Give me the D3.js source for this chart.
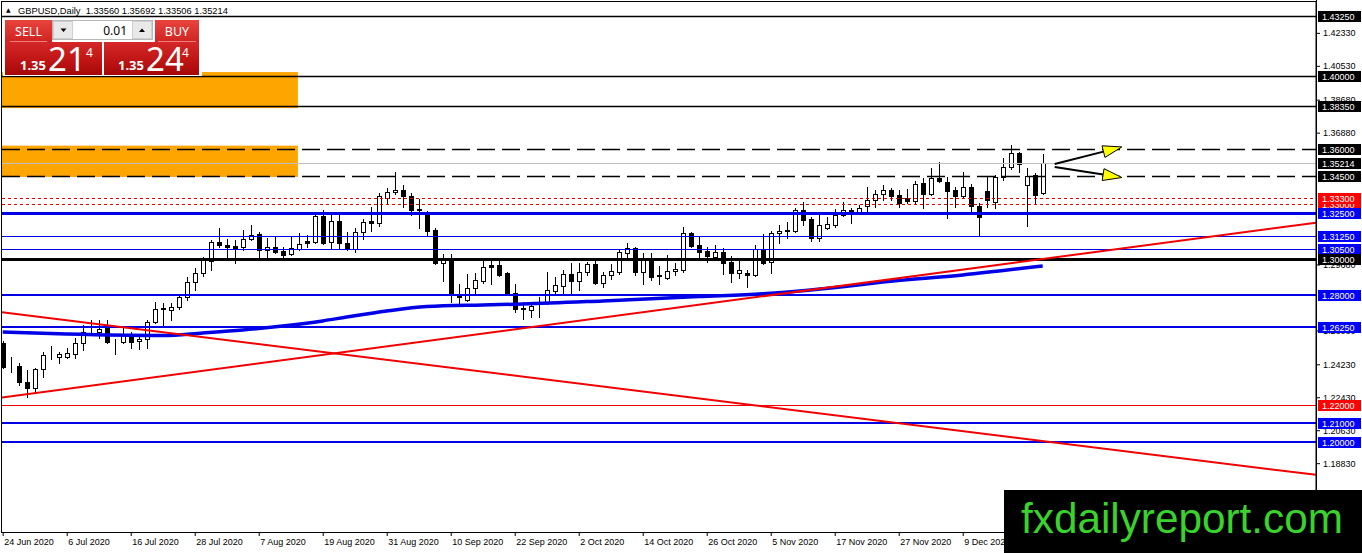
<!DOCTYPE html>
<html>
<head>
<meta charset="utf-8">
<title>GBPUSD Daily</title>
<script src="https://cdnjs.cloudflare.com/ajax/libs/d3/7.8.5/d3.min.js"></script>
<style>
  body { margin: 0; background: #fff; overflow: hidden; }
  svg { display: block; }
  .ax text { font-family: "Liberation Sans", Arial, sans-serif; font-size: 9px; fill: #000; }
  .ax line { stroke: #000; }
</style>
</head>
<body>
<div id="chart"></div>
<script>
// daily bars, 24 Jun 2020 .. 23 Dec 2020
var opens = [1.2540,1.2416,1.2413,1.2326,1.2294,1.2397,1.2468,1.2463,1.2463,1.2479,
  1.2540,1.2599,1.2599,1.2627,1.2551,1.2545,1.2572,1.2551,1.2561,1.2654,
  1.2725,1.2720,1.2736,1.2791,1.2872,1.2922,1.2987,1.3091,1.3075,1.3069,
  1.3064,1.3107,1.3135,1.3047,1.3064,1.3042,1.3025,1.3053,1.3096,1.3091,
  1.3233,1.3091,1.3206,1.3085,1.3053,1.3145,1.3206,1.3195,1.3331,1.3364,
  1.3375,1.3342,1.3271,1.3249,1.3156,1.2976,1.2998,1.2801,1.2774,1.2840,
  1.2878,1.2965,1.2965,1.2922,1.2812,1.2725,1.2720,1.2742,1.2758,1.2823,
  1.2851,1.2916,1.2878,1.2927,1.2971,1.2867,1.2911,1.2927,1.3031,1.3058,
  1.2927,1.2998,1.2905,1.2894,1.2933,1.2938,1.3140,1.3075,1.3042,1.3009,
  1.3036,1.2982,1.2922,1.2922,1.2911,1.3053,1.2982,1.3140,1.3151,1.3151,
  1.3266,1.3216,1.3113,1.3167,1.3184,1.3238,1.3266,1.3255,1.3287,1.3320,
  1.3353,1.3375,1.3348,1.3331,1.3315,1.3413,1.3353,1.3440,1.3418,1.3375,
  1.3342,1.3391,1.3287,1.3369,1.3309,1.3446,1.3500,1.3577,1.3402,1.3457,
  1.33560];
var highs = [1.2551,1.2462,1.2430,1.2392,1.2402,1.2490,1.2523,1.2490,1.2512,1.2567,
  1.2637,1.2665,1.2665,1.2665,1.2561,1.2627,1.2599,1.2584,1.2665,1.2763,
  1.2758,1.2758,1.2801,1.2900,1.2949,1.3009,1.3102,1.3167,1.3107,1.3102,
  1.3156,1.3184,1.3145,1.3113,1.3124,1.3064,1.3118,1.3140,1.3129,1.3249,
  1.3266,1.3249,1.3249,1.3145,1.3167,1.3216,1.3282,1.3358,1.3386,1.3473,
  1.3402,1.3358,1.3326,1.3260,1.3167,1.3025,1.3025,1.2861,1.2916,1.2922,
  1.2998,1.2998,1.2998,1.2925,1.2861,1.2763,1.2758,1.2791,1.2927,1.2900,
  1.2938,1.2976,1.2976,1.2982,1.2993,1.2927,1.2971,1.3047,1.3085,1.3064,
  1.3031,1.3031,1.2960,1.3020,1.2976,1.3173,1.3145,1.3124,1.3064,1.3075,
  1.3058,1.3014,1.2987,1.2938,1.3075,1.3135,1.3151,1.3184,1.3200,1.3277,
  1.3309,1.3227,1.3238,1.3227,1.3271,1.3309,1.3277,1.3293,1.3391,1.3375,
  1.3402,1.3386,1.3375,1.3380,1.3424,1.3440,1.3495,1.3528,1.3446,1.3391,
  1.3473,1.3408,1.3304,1.3446,1.3457,1.3550,1.3621,1.3582,1.3495,1.3468,
  1.35692];
var lows = [1.2402,1.2381,1.2310,1.2244,1.2266,1.2354,1.2452,1.2430,1.2457,1.2457,
  1.2501,1.2588,1.2567,1.2540,1.2479,1.2540,1.2512,1.2507,1.2512,1.2648,
  1.2637,1.2665,1.2725,1.2774,1.2829,1.2905,1.2938,1.3064,1.2998,1.2976,
  1.3047,1.3102,1.3003,1.3009,1.3031,1.3003,1.3020,1.3047,1.3064,1.3085,
  1.3080,1.3058,1.3053,1.3047,1.3036,1.3107,1.3151,1.3178,1.3298,1.3353,
  1.3282,1.3238,1.3167,1.3129,1.2971,1.2878,1.2763,1.2752,1.2769,1.2812,
  1.2867,1.2861,1.2905,1.2807,1.2709,1.2670,1.2681,1.2681,1.2752,1.2812,
  1.2801,1.2812,1.2829,1.2911,1.2861,1.2845,1.2889,1.2916,1.3009,1.2911,
  1.2861,1.2883,1.2861,1.2889,1.2911,1.2927,1.3064,1.3009,1.2982,1.3003,
  1.2916,1.2872,1.2894,1.2845,1.2905,1.2971,1.2922,1.3085,1.3113,1.3145,
  1.3184,1.3096,1.3096,1.3162,1.3173,1.3233,1.3195,1.3244,1.3255,1.3282,
  1.3320,1.3320,1.3282,1.3304,1.3304,1.3277,1.3348,1.3418,1.3222,1.3282,
  1.3337,1.3244,1.3124,1.3282,1.3277,1.3429,1.3490,1.3473,1.3178,1.3298,
  1.33506];
var closes = [1.2408,1.2411,1.2326,1.2294,1.2397,1.2474,1.2471,1.2479,1.2485,1.2540,
  1.2599,1.2597,1.2616,1.2545,1.2548,1.2584,1.2545,1.2561,1.2654,1.2725,
  1.2729,1.2736,1.2791,1.2872,1.2922,1.2993,1.3091,1.3075,1.3064,1.3058,
  1.3107,1.3129,1.3047,1.3064,1.3036,1.3020,1.3058,1.3080,1.3088,1.3233,
  1.3085,1.3206,1.3085,1.3053,1.3145,1.3200,1.3195,1.3342,1.3364,1.3375,
  1.3342,1.3266,1.3268,1.3151,1.2976,1.2998,1.2801,1.2791,1.2840,1.2883,
  1.2954,1.2954,1.2911,1.2812,1.2725,1.2731,1.2742,1.2739,1.2829,1.2856,
  1.2916,1.2878,1.2927,1.2971,1.2867,1.2911,1.2933,1.3036,1.3058,1.2927,
  1.3003,1.2900,1.2911,1.2933,1.2943,1.3140,1.3069,1.3036,1.3014,1.3036,
  1.2976,1.2922,1.2938,1.2911,1.3053,1.2976,1.3140,1.3151,1.3156,1.3266,
  1.3211,1.3113,1.3184,1.3189,1.3238,1.3266,1.3255,1.3277,1.3320,1.3353,
  1.3375,1.3342,1.3304,1.3315,1.3408,1.3353,1.3440,1.3424,1.3369,1.3342,
  1.3391,1.3287,1.3227,1.3320,1.3446,1.3500,1.3577,1.3517,1.3451,1.3348,
  1.35214];

// moving average, sampled at these bars
var maBars   = [0, 8, 20, 25, 30, 35, 40, 43, 48, 53, 60, 65, 75, 87, 95, 100, 105, 110, 120, 130];
var maValues = [1.2599, 1.2588, 1.2580, 1.2594, 1.2610, 1.2632, 1.2660, 1.2681, 1.2714, 1.2738,
  1.2747, 1.2752, 1.2769, 1.2793, 1.2808, 1.2825, 1.2847, 1.2872, 1.2911, 1.2960];

// trend lines (two anchors each, extended to the right edge)
var trendUpBars = [0, 130], trendUpPrices = [1.2242, 1.2998];
var trendDownBars = [0, 130], trendDownPrices = [1.2707, 1.2004];

// horizontal levels
var blackLevels = [1.43250, 1.40000, 1.38350];
var dashLevels = [1.36000, 1.34500];
var bidPrice = 1.35214;
var redDotLevels = [1.33000, 1.33300];
var blueLevels = [1.32500, 1.31250, 1.30500, 1.28000, 1.26250, 1.21000, 1.20000];
var pivotLevel = 1.30000;
var redLevel = 1.22000;

// zones
var zoneTops = [1.4019, 1.3617];
var zoneBottoms = [1.3822, 1.3446];
var zoneEndBar = 36.9;

// arrows
var arrowStartBars = [131.5, 131.5], arrowStartPrices = [1.3517, 1.3500];
var arrowEndBars = [139.9, 139.9], arrowEndPrices = [1.3610, 1.3443];

// axes
var priceTicks = [1.42330, 1.40530, 1.38680, 1.36880, 1.29680, 1.26080,
  1.24230, 1.22430, 1.20630, 1.18830];
var dateBars = [0, 8, 16, 24, 32, 40, 48, 56, 64, 72, 80, 88, 96, 104, 112, 120];
var dateLabels = ["24 Jun 2020", "6 Jul 2020", "16 Jul 2020", "28 Jul 2020", "7 Aug 2020",
  "19 Aug 2020", "31 Aug 2020", "10 Sep 2020", "22 Sep 2020", "2 Oct 2020", "14 Oct 2020",
  "26 Oct 2020", "5 Nov 2020", "17 Nov 2020", "27 Nov 2020", "9 Dec 2020"];

var W = 1362, H = 553;
var pL = 2, pR = 1316, pT = 2, pB = 532;

var x = d3.scaleLinear().domain([0, 130]).range([2.7, 1042.7]);
var y = d3.scaleLinear().domain([1.14908, 1.44124]).range([535, 0]);

var svg = d3.select("#chart").append("svg").attr("width", W).attr("height", H);
var defs = svg.append("defs");
defs.append("clipPath").attr("id", "plotClip").append("rect")
  .attr("x", pL).attr("y", pT).attr("width", pR - pL).attr("height", pB - pT);

var plot = svg.append("g").attr("clip-path", "url(#plotClip)");

// zones (background)
plot.selectAll("rect.zone").data(zoneTops).join("rect")
  .attr("class", "zone")
  .attr("x", pL)
  .attr("width", x(zoneEndBar) - pL)
  .attr("y", function(d) { return y(d); })
  .attr("height", function(d, i) { return y(zoneBottoms[i]) - y(d); })
  .attr("fill", "#ffa500");

// candles
var bars = d3.range(opens.length);
var cx = function(i) { return Math.round(x(i)) + 0.5; };
plot.selectAll("line.wick").data(bars).join("line")
  .attr("class", "wick")
  .attr("x1", cx).attr("x2", cx)
  .attr("y1", function(i) { return Math.round(y(highs[i])); })
  .attr("y2", function(i) { return Math.round(y(lows[i])) + 1; })
  .attr("stroke", "#000").attr("stroke-width", 1);
plot.selectAll("rect.body").data(bars).join("rect")
  .attr("class", "body")
  .attr("x", function(i) { return cx(i) - 2; })
  .attr("width", 4)
  .attr("y", function(i) { return Math.round(y(Math.max(opens[i], closes[i]))) + 0.5; })
  .attr("height", function(i) {
    return Math.round(y(Math.min(opens[i], closes[i]))) - Math.round(y(Math.max(opens[i], closes[i])));
  })
  .attr("fill", function(i) { return closes[i] >= opens[i] ? "#fff" : "#000"; })
  .attr("stroke", "#000").attr("stroke-width", 1);

// horizontal levels
function hLine(p, color, width, dash) {
  var yy = Math.round(y(p)) + (width % 2 ? 0.5 : 0);
  var l = plot.append("line")
    .attr("x1", pL).attr("x2", pR)
    .attr("y1", yy).attr("y2", yy)
    .attr("stroke", color).attr("stroke-width", width);
  if (dash) l.attr("stroke-dasharray", dash);
}
blackLevels.forEach(function(p) { hLine(p, "#000", 1.5); });
dashLevels.forEach(function(p) { hLine(p, "#000", 1.5, "18,7"); });
hLine(bidPrice, "#c0c0c0", 1);
redDotLevels.forEach(function(p) { hLine(p, "#e00000", 1, "3,3"); });
blueLevels.forEach(function(p) {
  var w = p === 1.325 ? 3 : (p === 1.3125 || p === 1.305) ? 1 : 2;
  hLine(p, "#0000e6", w);
});
hLine(pivotLevel, "#000", 3);
hLine(redLevel, "#f00000", 1);

// moving average
var maLine = d3.line()
  .x(function(d, i) { return x(maBars[i]); })
  .y(function(d) { return y(d); })
  .curve(d3.curveMonotoneX);
plot.append("path").datum(maValues)
  .attr("d", maLine)
  .attr("fill", "none").attr("stroke", "#0000e6").attr("stroke-width", 3.5);

// trend rays
function ray(bs, ps) {
  var slope = (ps[1] - ps[0]) / (bs[1] - bs[0]);
  var b0 = x.invert(pL), b1 = x.invert(pR);
  return [[b0, ps[0] + (b0 - bs[0]) * slope], [b1, ps[0] + (b1 - bs[0]) * slope]];
}
[[trendUpBars, trendUpPrices], [trendDownBars, trendDownPrices]].forEach(function(t) {
  var pts = ray(t[0], t[1]);
  plot.append("line")
    .attr("x1", x(pts[0][0])).attr("y1", y(pts[0][1]))
    .attr("x2", x(pts[1][0])).attr("y2", y(pts[1][1]))
    .attr("stroke", "#f00000").attr("stroke-width", 2);
});

// arrows
arrowStartBars.forEach(function(b, i) {
  var x0 = x(b), y0 = y(arrowStartPrices[i]);
  var x1 = x(arrowEndBars[i]), y1 = y(arrowEndPrices[i]);
  var a = Math.atan2(y1 - y0, x1 - x0), len = 19, hw = 6;
  var bx = x1 - len * Math.cos(a), by = y1 - len * Math.sin(a);
  plot.append("line")
    .attr("x1", x0).attr("y1", y0).attr("x2", bx).attr("y2", by)
    .attr("stroke", "#000").attr("stroke-width", 2);
  var pts = [[x1, y1],
    [bx + hw * Math.sin(a), by - hw * Math.cos(a)],
    [bx - hw * Math.sin(a), by + hw * Math.cos(a)]];
  plot.append("path")
    .attr("d", "M" + pts.join("L") + "Z")
    .attr("fill", "#ffff00").attr("stroke", "#000").attr("stroke-width", 1);
});

// frame
svg.append("rect")
  .attr("x", 1.5).attr("y", 1.5).attr("width", pR - 1.5).attr("height", pB - 1)
  .attr("fill", "none").attr("stroke", "#000").attr("stroke-width", 1);

// price axis
var yAxis = d3.axisRight(y).tickValues(priceTicks).tickFormat(d3.format(".5f"))
  .tickSize(4).tickPadding(3);
var gy = svg.append("g").attr("class", "ax").attr("transform", "translate(" + pR + ",0)").call(yAxis);
gy.select(".domain").remove();
svg.append("line").attr("x1", pR + 0.5).attr("x2", pR + 0.5).attr("y1", 0).attr("y2", 492)
  .attr("stroke", "#000");

// date axis
var xAxis = d3.axisBottom(x).tickValues(dateBars)
  .tickFormat(function(d, i) { return dateLabels[i]; }).tickSize(4);
var gx = svg.append("g").attr("class", "ax").attr("transform", "translate(0," + pB + ")").call(xAxis);
gx.select(".domain").remove();
gx.selectAll("text").attr("text-anchor", "start").attr("x", 1).attr("y", 13).attr("dy", null);

// level labels on the price axis
var labels = svg.append("g");
function tag(p, bg) {
  var yy = Math.round(y(p));
  labels.append("rect").attr("x", pR + 2).attr("y", yy - 5).attr("width", 43).attr("height", 11)
    .attr("fill", bg);
  labels.append("text").attr("x", pR + 6).attr("y", yy + 3.5)
    .attr("font-family", "Liberation Sans, Arial, sans-serif").attr("font-size", 9)
    .attr("fill", "#fff").text(d3.format(".5f")(p));
}
blackLevels.forEach(function(p) { tag(p, "#000"); });
dashLevels.forEach(function(p) { tag(p, "#000"); });
tag(bidPrice, "#000");
redDotLevels.forEach(function(p) { tag(p, "#ff0000"); });
blueLevels.forEach(function(p) { tag(p, "#0000ff"); });
tag(pivotLevel, "#000");
tag(redLevel, "#ff0000");

// header
svg.append("text").attr("x", 6).attr("y", 12).attr("font-size", 6)
  .attr("font-family", "DejaVu Sans, sans-serif").text("\u25B2");
svg.append("text").attr("x", 18).attr("y", 13.5)
  .attr("font-family", "Liberation Sans, Arial, sans-serif").attr("font-size", 9.3)
  .attr("xml:space", "preserve")
  .text("GBPUSD,Daily  1.33560 1.35692 1.33506 1.35214");

// one-click trading panel
var gBtn = defs.append("linearGradient").attr("id", "btnRed").attr("x1", 0).attr("y1", 0).attr("x2", 0).attr("y2", 1);
gBtn.append("stop").attr("offset", 0).attr("stop-color", "#e8443e");
gBtn.append("stop").attr("offset", 1).attr("stop-color", "#cf2320");
var gPx = defs.append("linearGradient").attr("id", "pxRed").attr("x1", 0).attr("y1", 0).attr("x2", 0).attr("y2", 1);
gPx.append("stop").attr("offset", 0).attr("stop-color", "#d42828");
gPx.append("stop").attr("offset", 0.55).attr("stop-color", "#c01515");
gPx.append("stop").attr("offset", 1).attr("stop-color", "#a50808");

var panel = svg.append("g").attr("font-family", "Noto Sans, Open Sans, sans-serif");
panel.append("rect").attr("x", 3).attr("y", 18).attr("width", 199).attr("height", 58).attr("fill", "#fff");
panel.append("rect").attr("x", 5).attr("y", 20).attr("width", 47).attr("height", 22).attr("fill", "url(#btnRed)");
panel.append("rect").attr("x", 155).attr("y", 20).attr("width", 44).attr("height", 22).attr("fill", "url(#btnRed)");
panel.append("rect").attr("x", 5).attr("y", 42).attr("width", 97).attr("height", 33).attr("fill", "url(#pxRed)");
panel.append("rect").attr("x", 104).attr("y", 42).attr("width", 95).attr("height", 33).attr("fill", "url(#pxRed)");
panel.append("line").attr("x1", 10).attr("x2", 47).attr("y1", 41.5).attr("y2", 41.5).attr("stroke", "#f08080");
panel.append("line").attr("x1", 158).attr("x2", 196).attr("y1", 41.5).attr("y2", 41.5).attr("stroke", "#f08080");
panel.append("rect").attr("x", 52.5).attr("y", 20.5).attr("width", 100).attr("height", 19)
  .attr("fill", "#fff").attr("stroke", "#b8b8b8");
panel.append("rect").attr("x", 53.5).attr("y", 21.5).attr("width", 19).attr("height", 17)
  .attr("fill", "#e9e9e9").attr("stroke", "#cfcfcf");
panel.append("rect").attr("x", 132.5).attr("y", 21.5).attr("width", 19).attr("height", 17)
  .attr("fill", "#e9e9e9").attr("stroke", "#cfcfcf");
panel.append("path").attr("d", "M60.5,28.5 L66.5,28.5 L63.5,32 Z").attr("fill", "#000");
panel.append("path").attr("d", "M139,32 L145,32 L142,28.5 Z").attr("fill", "#000");
panel.append("text").attr("x", 127).attr("y", 35).attr("text-anchor", "end").attr("font-size", 12).text("0.01");
panel.append("text").attr("x", 28.5).attr("y", 36).attr("text-anchor", "middle").attr("font-size", 12.5)
  .attr("fill", "#fff").text("SELL");
panel.append("text").attr("x", 177).attr("y", 36).attr("text-anchor", "middle").attr("font-size", 12.5)
  .attr("fill", "#fff").text("BUY");
[[20, 48, 86, "21"], [118, 146, 182, "24"]].forEach(function(t) {
  panel.append("text").attr("x", t[0]).attr("y", 70).attr("font-size", 13).attr("font-weight", "bold")
    .attr("fill", "#fff").text("1.35");
  panel.append("text").attr("x", t[1]).attr("y", 71).attr("font-size", 33)
    .attr("fill", "#fff").text(t[3]);
  panel.append("text").attr("x", t[2]).attr("y", 57).attr("font-size", 12)
    .attr("fill", "#fff").text("4");
});

// watermark
svg.append("rect").attr("x", 1004).attr("y", 490).attr("width", W - 1004).attr("height", H - 490).attr("fill", "#000");
svg.append("text").attr("x", 1021).attr("y", 533)
  .attr("font-family", "Liberation Sans, Arial, sans-serif").attr("font-size", 42.5)
  .attr("textLength", 322).attr("lengthAdjust", "spacingAndGlyphs")
  .attr("fill", "#3ad22c").text("fxdailyreport.com");
</script>
</body>
</html>
